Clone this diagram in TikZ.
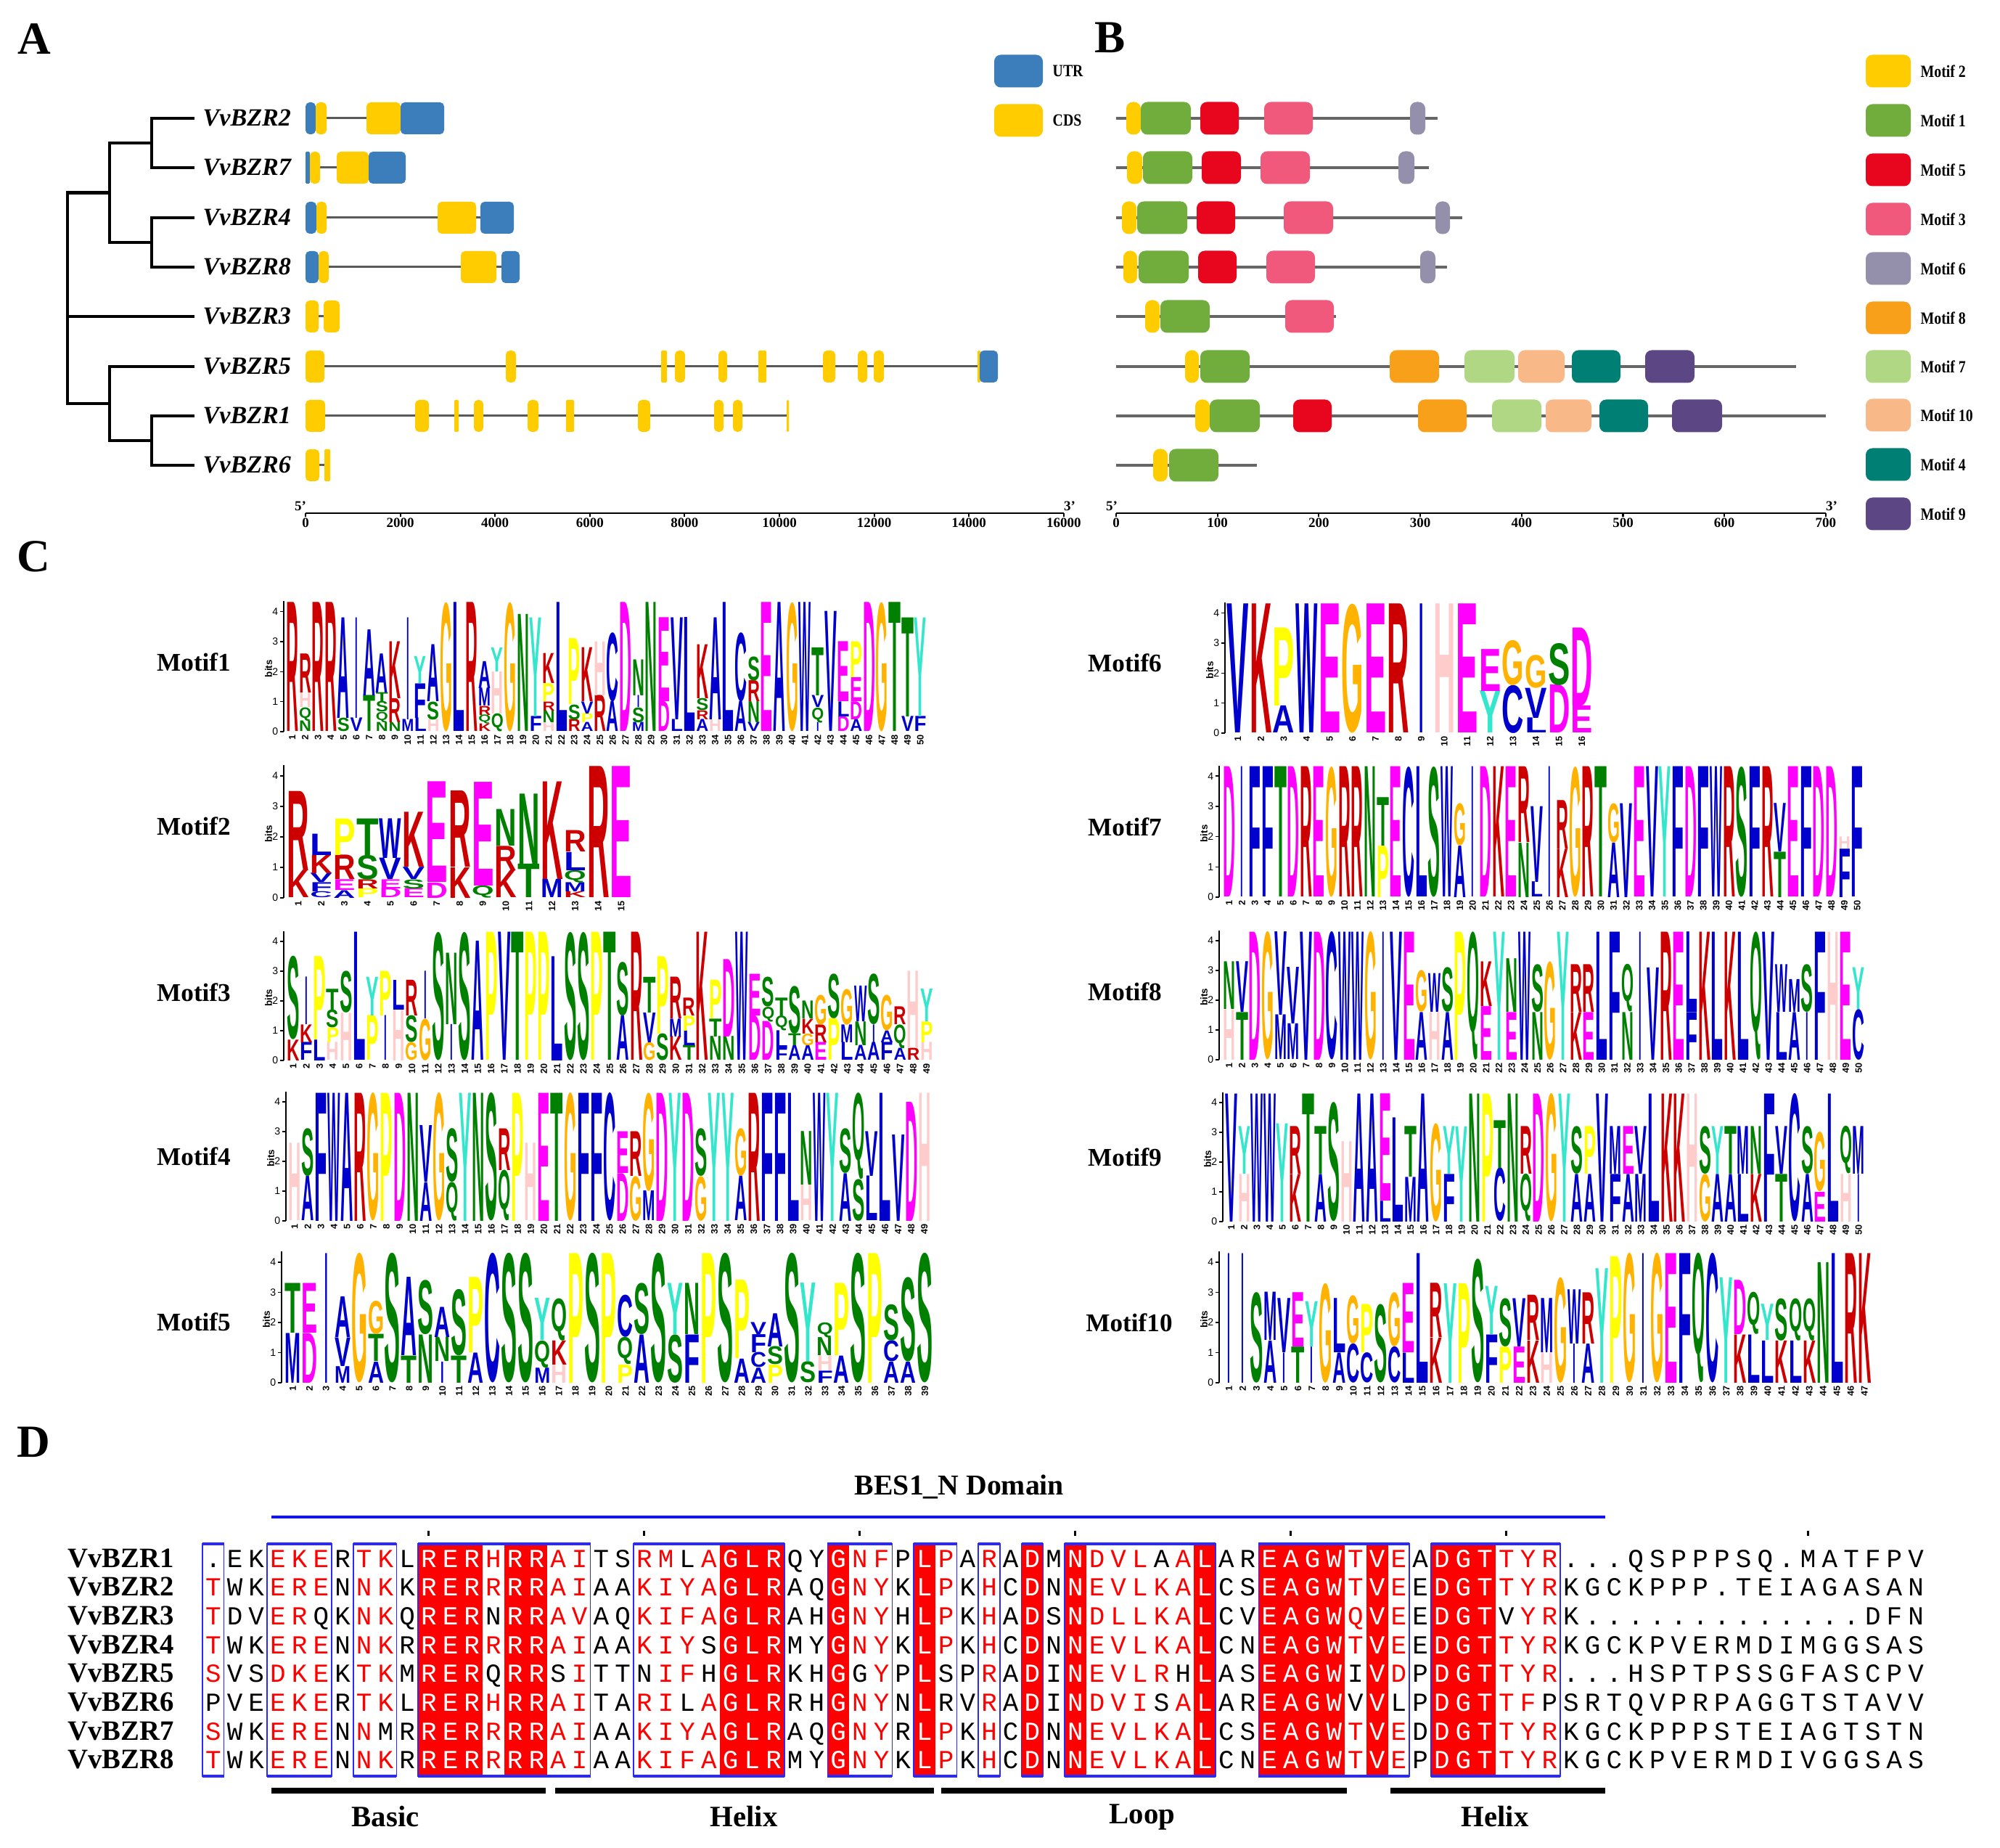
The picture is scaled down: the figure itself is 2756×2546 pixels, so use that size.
\documentclass[tikz,border=0pt]{standalone}
\usepackage{fontspec}
\usepackage{graphicx}
\setmainfont{Liberation Serif}
\newfontfamily\lgf{Liberation Sans}
\newfontfamily\monof{Liberation Mono}
% logo colours
\definecolor{lgblue}{RGB}{0,0,204}
\definecolor{lgred}{RGB}{204,0,0}
\definecolor{lgpink}{RGB}{255,204,204}
\definecolor{lggreen}{RGB}{0,128,0}
\definecolor{lgmag}{RGB}{255,0,255}
\definecolor{lgorange}{RGB}{255,179,0}
\definecolor{lgyellow}{RGB}{255,255,0}
\definecolor{lgturq}{RGB}{51,230,204}
\colorlet{aaA}{lgblue}\colorlet{aaC}{lgblue}\colorlet{aaF}{lgblue}\colorlet{aaI}{lgblue}
\colorlet{aaL}{lgblue}\colorlet{aaM}{lgblue}\colorlet{aaV}{lgblue}\colorlet{aaW}{lgblue}
\colorlet{aaK}{lgred}\colorlet{aaR}{lgred}\colorlet{aaH}{lgpink}
\colorlet{aaN}{lggreen}\colorlet{aaQ}{lggreen}\colorlet{aaS}{lggreen}\colorlet{aaT}{lggreen}
\colorlet{aaD}{lgmag}\colorlet{aaE}{lgmag}\colorlet{aaG}{lgorange}\colorlet{aaP}{lgyellow}\colorlet{aaY}{lgturq}
% structure colours
\definecolor{utr}{RGB}{59,126,187}
\definecolor{cds}{RGB}{255,204,0}
\definecolor{mtwo}{RGB}{255,204,0}
\definecolor{mone}{RGB}{112,173,60}
\definecolor{mfive}{RGB}{232,5,30}
\definecolor{mthree}{RGB}{240,89,124}
\definecolor{msix}{RGB}{148,144,172}
\definecolor{meight}{RGB}{248,160,26}
\definecolor{mseven}{RGB}{176,216,132}
\definecolor{mten}{RGB}{248,184,136}
\definecolor{mfour}{RGB}{0,128,116}
\definecolor{mnine}{RGB}{92,70,131}
\definecolor{espblue}{RGB}{40,40,255}
\definecolor{domblue}{RGB}{20,20,230}

\newcommand\gexon[4]{%
  \pgfmathsetmacro\qrc{((#3)-(#2))<12 ? 0.4 : 1.6}%
  \fill[#1, rounded corners=\qrc pt] (#2,#4-22) rectangle (#3,#4+22);}
\newcommand\mtf[4]{%
  \fill[#1, rounded corners=2.6pt] (#2,#4-22.5) rectangle (#3,#4+22.5);}

\newcommand\logo[5]{%
  \foreach \qcl [count=\qci] in {#5}{%
    \gdef\qyb{0}%
    \foreach \qlt/\qlh in \qcl {%
      \if\qlt I\def\qfw{0.2}\def\qfo{0.4}\else\def\qfw{0.96}\def\qfo{0.02}\fi
      \pgfmathsetmacro\qlx{#1+(\qci-1)*#3+\qfo*#3}%
      \pgfmathsetmacro\qly{#2-\qyb*#4}%
      \pgfmathsetmacro\qhh{max(\qlh*#4*0.284528,0.3)}%
      \pgfmathsetmacro\qww{#3*\qfw*0.284528}%
      \node[inner sep=0,outer sep=0,anchor=south west,text=aa\qlt] at (\qlx,\qly) {\resizebox*{\qww pt}{\qhh pt}{\lgf\bfseries\qlt}};%
      \pgfmathsetmacro\qnb{\qyb+\qlh}%
      \global\let\qyb\qnb
    }%
    \pgfmathsetmacro\qxc{#1+(\qci-0.5)*#3}%
    \node[rotate=90,anchor=east,inner sep=0,font=\lgf\bfseries\fontsize{3.6}{4}\selectfont] at (\qxc,#2+4) {\qci};%
  }%
}
\newcommand\logoaxis[3]{%
  \draw[line width=0.5pt] (#1,#2) -- (#1,#2-4.35*#3);
  \foreach \qk in {0,...,4}{\draw[line width=0.4pt] (#1,#2-\qk*#3) -- ++(-5,0) node[left,inner sep=0.6pt,font=\lgf\fontsize{4}{4}\selectfont]{\qk};}
  \node[rotate=90,inner sep=0,font=\lgf\bfseries\fontsize{3.8}{4}\selectfont] at (#1-21,#2-2.1*#3) {bits};
}

% alignment machinery
\newcount\alc
\def\alrow#1#2#3{\alc=0 \def\aly{#1}\alnext#2\relax#3\relax}
\def\alnext#1#2\relax#3#4\relax{%
  \advance\alc by 1
  \alcell{#1}{#3}%
  \ifx\relax#2\relax\else\alnext#2\relax#4\relax\fi}
\def\alcell#1#2{%
  \if r#2\def\alcol{red}\else\if w#2\def\alcol{white}\else\def\alcol{black}\fi\fi
  \pgfmathsetmacro\alx{279+(\the\alc-0.5)*29.7}%
  \node[anchor=base,inner sep=0,text=\alcol] at (\alx,\aly) {\monof\fontsize{10.2}{10}\selectfont #1};}

\tikzset{
  plab/.style={font=\fontsize{18}{20}\selectfont\bfseries, inner sep=0},
  tree/.style={line width=1.2pt},
  intron/.style={line width=0.85pt, draw=black!65},
  mline/.style={line width=1.1pt, draw=black!60},
  gname/.style={font=\fontsize{9.7}{11}\selectfont\bfseries\itshape, anchor=base west, inner sep=0},
  legtxt/.style={font=\fontsize{6.7}{8}\selectfont\bfseries, anchor=west, inner sep=0},
  axnum/.style={font=\fontsize{5.4}{6}\selectfont\bfseries, anchor=north, inner sep=0},
  mlab/.style={font=\fontsize{10}{12}\selectfont\bfseries, inner sep=0},
  dname/.style={font=\fontsize{11}{12}\selectfont\bfseries, anchor=base west, inner sep=0},
  dlab/.style={font=\fontsize{11.6}{13}\selectfont\bfseries, inner sep=0},
}

\begin{document}
\begin{tikzpicture}[x=0.01cm,y=-0.01cm]
\useasboundingbox (0,0) rectangle (2756,2546);
\fill[white] (0,0) rectangle (2756,2546);

\node[plab] (labA) at (47,54) {A};
\node[plab] (labB) at (1530,52) {B};
\node[plab] (labC) at (46,767) {C};
\node[plab] (labD) at (46,1987) {D};

%================ Panel A: tree ================
\draw[tree] (268,163) -| (209,231) -- (268,231);
\draw[tree] (268,300) -| (209,368) -- (268,368);
\draw[tree] (209,197) -| (151,334) -- (209,334);
\draw[tree] (268,573) -| (209,641) -- (268,641);
\draw[tree] (268,505) -| (151,607) -- (209,607);
\draw[tree] (151,265.5) -| (93,556) -- (151,556);
\draw[tree] (93,436) -- (268,436);

\node[gname] (g2) at (279,174) {VvBZR2};
\node[gname] (g7) at (279,242) {VvBZR7};
\node[gname] (g4) at (279,311) {VvBZR4};
\node[gname] (g8) at (279,379) {VvBZR8};
\node[gname] (g3) at (279,447) {VvBZR3};
\node[gname] (g5) at (279,516) {VvBZR5};
\node[gname] (g1) at (279,584) {VvBZR1};
\node[gname] (g6) at (279,652) {VvBZR6};

% gene structures
\draw[intron] (421,163) -- (612,163);
\gexon{utr}{421}{435}{163}\gexon{cds}{435}{450}{163}\gexon{cds}{505}{552}{163}\gexon{utr}{552}{612}{163}
\draw[intron] (421,231) -- (559,231);
\gexon{utr}{421}{427}{231}\gexon{cds}{427}{441}{231}\gexon{cds}{464}{508}{231}\gexon{utr}{508}{559}{231}
\draw[intron] (421,300) -- (708,300);
\gexon{utr}{421}{436}{300}\gexon{cds}{436}{450}{300}\gexon{cds}{603}{656}{300}\gexon{utr}{662}{708}{300}
\draw[intron] (421,368) -- (716,368);
\gexon{utr}{421}{439}{368}\gexon{cds}{439}{453}{368}\gexon{cds}{635}{684}{368}\gexon{utr}{691}{716}{368}
\draw[intron] (421,436) -- (468,436);
\gexon{cds}{421}{439}{436}\gexon{cds}{446}{468}{436}
\draw[intron] (421,505) -- (1375,505);
\foreach \a/\b in {421/447,697/711,911/919,930/944,990/1002,1045/1056,1134/1151,1182/1195,1204/1218,1347/1351}{\gexon{cds}{\a}{\b}{505}}
\gexon{utr}{1350}{1375}{505}
\draw[intron] (421,573) -- (1087,573);
\foreach \a/\b in {421/448,572/591,626/632,653/666,727/742,780/791,879/896,984/997,1010/1023,1084/1087}{\gexon{cds}{\a}{\b}{573}}
\draw[intron] (421,641) -- (455,641);
\gexon{cds}{421}{440}{641}\gexon{cds}{447}{455}{641}

% legend A
\mtf{utr}{1370}{1437}{98}
\node[legtxt] (lutr) at (1450,98) {\scalebox{0.84}[1]{UTR}};
\mtf{cds}{1370}{1437}{166}
\node[legtxt] (lcds) at (1450,166) {\scalebox{0.84}[1]{CDS}};

% axis A
\draw[line width=0.8pt] (421,707) -- (1466,707);
\foreach \k in {0,...,8}{
  \pgfmathsetmacro\qx{421+\k*130.6}
  \pgfmathtruncatemacro\qv{\k*2000}
  \draw[line width=0.6pt] (\qx,707) -- (\qx,712);
  \node[axnum] at (\qx,713) {\qv};
}
\node[axnum, anchor=south] at (414,704) {5'};
\node[axnum, anchor=south] at (1474,704) {3'};

%================ Panel B ================
\draw[mline] (1538,163) -- (1981,163);
\mtf{mtwo}{1552}{1572}{163}\mtf{mone}{1572}{1641}{163}\mtf{mfive}{1654}{1707}{163}\mtf{mthree}{1742}{1809}{163}\mtf{msix}{1943}{1964}{163}
\draw[mline] (1538,231) -- (1969,231);
\mtf{mtwo}{1553}{1574}{231}\mtf{mone}{1575}{1643}{231}\mtf{mfive}{1656}{1710}{231}\mtf{mthree}{1737}{1805}{231}\mtf{msix}{1927}{1949}{231}
\draw[mline] (1538,300) -- (2015,300);
\mtf{mtwo}{1546}{1566}{300}\mtf{mone}{1567}{1636}{300}\mtf{mfive}{1649}{1702}{300}\mtf{mthree}{1769}{1837}{300}\mtf{msix}{1978}{1998}{300}
\draw[mline] (1538,368) -- (1994,368);
\mtf{mtwo}{1548}{1567}{368}\mtf{mone}{1569}{1638}{368}\mtf{mfive}{1651}{1704}{368}\mtf{mthree}{1745}{1812}{368}\mtf{msix}{1957}{1978}{368}
\draw[mline] (1538,436) -- (1841,436);
\mtf{mtwo}{1578}{1598}{436}\mtf{mone}{1599}{1667}{436}\mtf{mthree}{1771}{1838}{436}
\draw[mline] (1538,505) -- (2475,505);
\mtf{mtwo}{1633}{1652}{505}\mtf{mone}{1654}{1722}{505}\mtf{meight}{1915}{1983}{505}\mtf{mseven}{2018}{2087}{505}\mtf{mten}{2092}{2156}{505}\mtf{mfour}{2166}{2233}{505}\mtf{mnine}{2267}{2335}{505}
\draw[mline] (1538,573) -- (2516,573);
\mtf{mtwo}{1647}{1667}{573}\mtf{mone}{1667}{1736}{573}\mtf{mfive}{1782}{1835}{573}\mtf{meight}{1954}{2021}{573}\mtf{mseven}{2056}{2124}{573}\mtf{mten}{2130}{2193}{573}\mtf{mfour}{2204}{2271}{573}\mtf{mnine}{2304}{2373}{573}
\draw[mline] (1538,641) -- (1732,641);
\mtf{mtwo}{1589}{1609}{641}\mtf{mone}{1611}{1679}{641}

% legend B
\foreach \c/\t/\yy in {mtwo/Motif 2/98,mone/Motif 1/166,mfive/Motif 5/234,mthree/Motif 3/302,msix/Motif 6/370,meight/Motif 8/438,mseven/Motif 7/505,mten/Motif 10/572,mfour/Motif 4/640,mnine/Motif 9/708}{
  \mtf{\c}{2571}{2633}{\yy}
  \node[legtxt] at (2646,\yy) {\scalebox{0.84}[1]{\t}};
}

% axis B
\draw[line width=0.8pt] (1538,707) -- (2516,707);
\foreach \k in {0,...,7}{
  \pgfmathsetmacro\qx{1538+\k*139.7}
  \pgfmathtruncatemacro\qv{\k*100}
  \draw[line width=0.6pt] (\qx,707) -- (\qx,712);
  \node[axnum] at (\qx,713) {\qv};
}
\node[axnum, anchor=south] at (1532,704) {5'};
\node[axnum, anchor=south] at (2524,704) {3'};

%================ Panel C ================
\node[mlab] (m1) at (267,912) {Motif1};
\node[mlab] (m2) at (267,1138) {Motif2};
\node[mlab] (m3) at (267,1367) {Motif3};
\node[mlab] (m4) at (267,1593) {Motif4};
\node[mlab] (m5) at (267,1821) {Motif5};
\node[mlab] (m6) at (1550,913) {Motif6};
\node[mlab] (m7) at (1550,1139) {Motif7};
\node[mlab] (m8) at (1550,1366) {Motif8};
\node[mlab] (m9) at (1550,1594) {Motif9};
\node[mlab] (m10) at (1556,1822) {Motif10};

\logoaxis{391}{1008}{41.3}
\logo{394}{1008}{17.66}{41.3}{{R/4.3},{N/0.35,Q/0.45,H/0.5,R/1.3},{R/4.3},{R/4.3},{S/0.45,A/3.35},{V/0.45,I/3.35},{T/1.2,A/2.2},{N/0.3,Q/0.35,S/0.35,T/0.3,A/1.3},{N/0.3,R/0.8,K/1.9},{M/0.4,I/3.4},
{L/0.45,F/1.15,Y/0.9},{H/0.4,S/0.6,A/1.9},{G/4.3},{L/4.3},{R/4.3},{K/0.25,Q/0.3,R/0.3,M/0.6,A/0.9},{Q/0.6,H/1.4,Y/0.8},{G/4.3},{N/3.9},{F/0.5,Y/3.3},
{H/0.3,N/0.4,R/0.3,P/0.6,K/1.0},{L/4.3},{R/0.4,S/0.5,P/2.2},{A/0.3,P/0.3,V/0.4,K/1.8},{R/1.2,H/1.8},{A/1.0,C/2.3},{D/4.3},{M/0.3,S/0.5,I/0.4,N/1.2},{N/4.3},{D/1.0,E/2.8},
{L/0.4,V/3.4},{L/3.8},{A/0.4,R/0.3,S/0.4,K/1.8},{H/0.4,A/3.4},{L/4.3},{A/1.0,C/2.3},{V/0.3,N/0.7,R/0.7,S/0.8},{E/4.3},{A/4.3},{G/4.3},
{W/4.3},{I/0.3,Q/0.5,V/0.4,T/1.6},{V/4.0},{D/0.5,L/0.5,E/2.0},{A/0.4,D/0.6,E/0.8,P/1.2},{D/4.3},{G/4.3},{T/4.3},{V/0.5,T/3.3},{F/0.5,Y/3.3}}

\logoaxis{391}{1237}{42}
\logo{395}{1237}{31.8}{42}{{K/0.9,R/2.6},{C/0.2,F/0.3,V/0.3,K/0.6,L/0.7},{A/0.25,E/0.35,R/0.8,P/1.2},{P/0.3,R/0.3,S/0.8,T/1.2},{D/0.3,E/0.3,V/0.7,W/1.3},{E/0.3,S/0.3,V/0.4,K/1.8},{D/0.5,E/3.3},{K/1.0,R/2.5},{Q/0.4,E/3.4},{K/0.9,R/0.8,N/1.2},{T/1.1,N/2.3},{M/0.6,K/3.2},{K/0.2,M/0.3,Q/0.4,L/0.6,R/0.7},{R/4.3},{E/4.3}}

\logoaxis{391}{1461}{41}
\logo{395}{1461}{18.18}{41}{{K/0.7,S/2.8},{F/0.6,K/0.6,I/1.6},{L/0.7,P/2.8},{H/0.6,P/0.5,S/0.6,T/0.7},{H/1.6,S/1.4},{L/4.3},{P/1.5,Y/1.3},{I/1.5,P/1.5},{H/1.7,L/1.0},{G/0.6,S/0.9,R/1.2},
{G/1.4,I/1.6},{S/4.3},{I/1.2,N/2.4},{S/4.3},{A/4.0},{P/4.3},{V/4.3},{T/4.3},{P/4.3},{P/4.3},
{L/3.5},{S/4.3},{S/4.3},{P/4.3},{T/4.3},{A/1.5,S/1.8},{R/4.3},{G/0.6,V/1.0,T/1.2},{S/0.9,P/2.6},{K/0.8,M/0.6,R/1.4},
{T/0.5,L/0.5,P/0.5,R/0.6},{K/4.3},{N/0.8,T/0.6,P/1.3},{N/0.8,D/2.6},{W/4.3},{D/1.5,E/1.4},{D/1.3,Q/0.5,S/1.0},{F/0.4,L/0.6,Q/0.5,T/0.6},{A/0.5,T/0.4,S/1.6},{A/0.5,G/0.4,K/0.5,N/0.6},
{E/0.6,R/0.6,G/1.0},{P/1.4,S/1.5},{L/0.6,M/0.6,G/1.2},{A/0.5,N/0.8,W/1.2},{A/0.6,I/0.6,S/1.7},{F/0.6,A/0.4,G/1.2},{A/0.4,Q/0.8,R/0.6},{R/0.4,H/2.6},{H/0.6,P/0.7,Y/1.1}}

\logoaxis{394}{1682}{41}
\logo{397}{1682}{18.08}{41}{{H/2.6},{A/1.5,S/1.6},{F/4.3},{W/4.3},{A/4.3},{R/4.3},{G/4.3},{P/4.3},{D/4.3},{N/4.3},
{A/1.3,V/1.9},{G/4.3},{Q/1.3,S/1.8},{Y/4.3},{N/4.3},{S/4.3},{Q/1.7,R/1.4},{P/4.3},{H/2.6},{E/4.3},
{T/4.3},{G/4.3},{F/4.3},{F/4.3},{C/4.3},{D/1.6,E/1.4},{G/1.5,R/1.5},{M/1.0,G/3.3},{D/4.3},{Y/4.3},
{D/4.3},{G/1.5,S/1.6},{Y/4.3},{Y/4.3},{A/1.5,G/1.6},{R/4.3},{F/4.3},{F/4.3},{L/4.3},{H/1.2,N/1.8},
{W/4.3},{Y/4.3},{A/1.6,S/1.5},{S/1.4,Q/2.9},{L/1.5,V/1.5},{L/4.3},{V/2.9},{D/4.0},{H/4.3}}

\logoaxis{388}{1905}{41.5}
\logo{392}{1905}{22.92}{41.5}{{M/1.65,T/1.65},{D/1.65,E/1.65},{I/4.3},{M/0.55,V/0.95,A/1.35},{G/4.3},{A/0.7,T/0.9,G/1.1},{S/4.3},{T/0.9,A/2.6},{N/1.6,S/1.8},{I/0.7,N/0.8,A/1.0},
{T/0.9,S/2.2},{A/1.0,P/2.5},{C/4.3},{S/4.3},{S/4.3},{M/0.5,Q/0.9,Y/1.4},{H/0.6,K/0.8,Q/1.4},{P/4.3},{S/4.3},{P/4.3},
{P/0.6,Q/0.9,C/1.4},{A/1.6,S/1.7},{S/4.3},{S/1.6,Y/1.7},{F/1.6,N/1.7},{P/4.3},{S/4.3},{A/0.8,P/2.6},{A/0.5,C/0.5,F/0.6,V/0.4},{P/0.6,S/0.6,A/1.1},
{S/4.3},{S/0.7,Y/2.6},{F/0.4,H/0.5,N/0.6,Q/0.5},{A/0.9,P/2.4},{S/4.3},{P/4.3},{A/0.7,C/0.7,S/1.2},{A/0.7,S/2.8},{S/4.3}}

\logoaxis{1688}{1010}{41.3}
\logo{1690}{1010}{31.6}{41.3}{{V/4.3},{K/4.3},{A/0.9,P/2.6},{W/4.3},{E/4.3},{G/4.3},{E/4.3},{R/4.3},{I/4.3},{H/4.3},{E/4.3},{Y/1.4,E/1.4},{C/1.6,G/1.5},{L/0.5,V/1.0,G/1.1},{D/1.6,S/1.4},{E/0.9,D/2.6}}

\logoaxis{1680}{1236}{41.7}
\logo{1685}{1236}{17.66}{41.7}{{D/4.3},{I/4.3},{F/4.3},{F/4.3},{T/4.3},{D/4.3},{R/4.3},{E/4.3},{G/4.3},{R/4.3},
{R/4.3},{N/4.3},{P/1.7,T/1.6},{E/4.3},{C/4.3},{L/4.3},{S/4.3},{W/4.3},{A/1.7,G/1.4},{I/4.3},
{D/4.3},{K/4.3},{E/4.3},{N/1.8,R/2.5},{L/0.5,V/2.5},{I/4.3},{K/1.6,R/1.6},{G/4.3},{R/4.3},{T/4.3},
{A/1.8,G/1.3},{V/3.1},{E/4.3},{V/4.3},{Y/4.3},{F/4.3},{D/4.3},{F/4.3},{W/4.3},{R/4.3},
{S/4.3},{F/4.3},{R/4.3},{T/1.5,V/1.6},{E/4.3},{F/4.3},{D/4.3},{D/4.3},{F/1.6,H/0.4},{F/4.3}}

\logoaxis{1680}{1460}{41}
\logo{1685}{1460}{17.7}{41}{{H/1.7,N/1.6},{T/1.6,V/1.7},{D/4.3},{G/4.3},{M/1.5,V/2.8},{M/1.2,V/1.9},{V/4.3},{D/4.3},{C/4.3},{W/4.3},
{W/4.3},{G/4.3},{I/4.3},{V/4.3},{E/4.3},{A/1.6,G/1.4},{H/1.6,W/1.3},{A/1.6,S/1.5},{P/4.3},{Q/4.3},
{E/1.8,K/1.5},{Y/4.3},{E/1.6,N/1.8},{W/4.3},{N/1.6,S/1.6},{G/3.3},{Y/4.3},{K/1.6,R/1.6},{E/1.6,R/1.6},{L/4.3},
{F/4.3},{N/1.6,Q/1.6},{I/4.3},{V/3.1},{R/4.3},{E/4.3},{F/1.6,L/2.7},{K/4.3},{L/4.3},{K/4.3},
{L/4.3},{Q/4.3},{V/4.3},{L/1.6,W/1.6},{A/1.6,M/1.1},{I/1.6,S/1.6},{F/4.3},{H/4.3},{E/4.3},{C/1.7,Y/1.4}}

\logoaxis{1685}{1683}{41}
\logo{1688}{1683}{17.64}{41}{{V/4.3},{H/1.6,Y/1.6},{W/4.3},{W/4.3},{Y/3.3},{K/1.6,R/1.6},{T/4.3},{A/1.6,T/1.6},{S/4.0},{H/2.7},
{A/4.3},{A/4.3},{L/0.7,E/3.6},{L/3.5},{M/1.5,T/1.7},{A/4.3},{G/3.3},{F/1.6,Y/1.6},{Y/3.2},{N/4.3},
{P/4.3},{C/1.8,T/1.6},{N/4.3},{Q/1.6,R/1.6},{D/4.3},{G/4.3},{Y/4.3},{A/1.6,S/1.6},{A/1.6,P/1.6},{V/4.3},
{F/1.6,M/1.6},{A/1.6,E/1.6},{M/1.6,V/1.6},{L/4.3},{K/4.3},{K/4.3},{H/4.3},{G/1.6,S/1.6},{A/1.6,Y/1.6},{A/1.6,T/1.6},
{L/1.6,M/1.6},{K/1.6,N/1.6},{F/4.3},{T/1.6,V/1.6},{C/4.3},{A/1.6,S/1.6},{E/1.0,G/2.0},{L/4.3},{H/1.6,Q/1.6},{I/1.6,M/1.6}}

\logoaxis{1680}{1905}{41.5}
\logo{1684}{1905}{19.04}{41.5}{{I/4.3},{I/4.3},{S/3.0},{A/1.4,M/1.6},{I/1.0,V/1.8},{T/1.2,E/1.8},{I/1.2,Y/1.5},{G/3.3},{A/1.0,L/1.8},{C/1.3,G/1.6},
{C/1.0,P/1.6},{S/2.6},{C/1.2,G/1.8},{L/1.0,E/2.3},{L/4.3},{K/1.5,R/1.8},{Y/3.3},{P/3.3},{S/4.1},{F/1.6,Y/1.6},
{P/1.2,S/1.6},{E/1.2,V/1.6},{K/1.4,R/1.5},{H/1.0,M/1.8},{G/3.5},{I/1.3,W/1.8},{A/1.3,R/1.7},{Y/3.8},{P/4.2},{G/4.3},
{I/4.3},{G/4.3},{E/4.3},{F/4.3},{Q/4.3},{C/4.3},{Y/3.5},{K/1.6,D/1.8},{L/1.6,Q/1.4},{L/1.4,Y/1.2},
{K/1.4,S/1.4},{L/1.4,Q/1.4},{K/1.4,Q/1.4},{N/4.0},{L/4.3},{R/4.3},{K/4.3}}

%================ Panel D ================
\node[font=\fontsize{11.3}{13}\selectfont\bfseries, inner sep=0] (dom) at (1322,2048) {BES1\_N Domain};
\draw[domblue, line width=1.4pt] (374,2090) -- (2212,2090);
\foreach \c in {11,21,31,41,51,61,75}{\draw[line width=0.9pt] ({279+(\c-0.5)*29.7},2109) -- ({279+(\c-0.5)*29.7},2116);}

% red fills
\foreach \a/\b in {11/13,15/16,25/27,30/30,34/34,39/39,41/41,47/47,50/53,55/55,58/60}{
  \fill[red] ({279+(\a-1)*29.7},2128) rectangle ({279+\b*29.7},2446);
}
% similarity boxes
\foreach \a/\b in {1/1,4/6,8/9,11/18,21/27,30/32,34/35,37/37,39/39,41/47,50/56,58/63}{
  \draw[espblue, line width=0.45pt] ({279+(\a-1)*29.7},2127) rectangle ({279+\b*29.7},2447);
  \draw[espblue, line width=1.1pt] ({279+(\a-1)*29.7},2127) -- ({279+\b*29.7},2127);
  \draw[espblue, line width=1.1pt] ({279+(\a-1)*29.7},2447) -- ({279+\b*29.7},2447);
}

\node[dname] (d1) at (93,2159) {VvBZR1};
\node[dname] (d2) at (93,2198.7) {VvBZR2};
\node[dname] (d3) at (93,2238.4) {VvBZR3};
\node[dname] (d4) at (93,2278.1) {VvBZR4};
\node[dname] (d5) at (93,2317.8) {VvBZR5};
\node[dname] (d6) at (93,2357.5) {VvBZR6};
\node[dname] (d7) at (93,2397.2) {VvBZR7};
\node[dname] (d8) at (93,2436.9) {VvBZR8};

\alrow{2159}{.EKEKERTKLRERHRRAITSRMLAGLRQYGNFPLPARADMNDVLAALAREAGWTVEADGTTYR...QSPPPSQ.MATFPV}{kkkrrrkrrkwwwrwwrrkkrrkrwwwkkwrrkwrkrkwkwrrrkrwkkwwwwrwrkwwwrrrkkkkkkkkkkkkkkkkk}
\alrow{2198.7}{TWKERENNKKRERRRRAIAAKIYAGLRAQGNYKLPKHCDNNEVLKALCSEAGWTVEEDGTTYRKGCKPPP.TEIAGASAN}{rkkrrrkrrkwwwrwwrrkkrrrrwwwkkwrrkwrkrkwkwrrrrrwkkwwwwrwrkwwwrrrkkkkkkkkkkkkkkkkk}
\alrow{2238.4}{TDVERQKNKQRERNRRAVAQKIFAGLRAHGNYHLPKHADSNDLLKALCVEAGWQVEEDGTVYRK.............DFN}{rkkrrkkrrkwwwkwwrrkkrrrrwwwkkwrrkwrkrkwkwrrrrrwkkwwwwrwrkwwwkrrkkkkkkkkkkkkkkkkk}
\alrow{2278.1}{TWKERENNKRRERRRRAIAAKIYSGLRMYGNYKLPKHCDNNEVLKALCNEAGWTVEEDGTTYRKGCKPVERMDIMGGSAS}{rkkrrrkrrkwwwrwwrrkkrrrkwwwkkwrrkwrkrkwkwrrrrrwkkwwwwrwrkwwwrrrkkkkkkkkkkkkkkkkk}
\alrow{2317.8}{SVSDKEKTKMRERQRRSITTNIFHGLRKHGGYPLSPRADINEVLRHLASEAGWIVDPDGTTYR...HSPTPSSGFASCPV}{rkkrrrkrrkwwwkwwkrkkkrrkwwwkkwkrkwkkrkwkwrrrrkwkkwwwwkwrkwwwrrrkkkkkkkkkkkkkkkkk}
\alrow{2357.5}{PVEEKERTKLRERHRRAITARILAGLRRHGNYNLRVRADINDVISALAREAGWVVLPDGTTFPSRTQVPRPAGGTSTAVV}{kkkrrrkrrkwwwrwwrrkkrrkrwwwkkwrrkwkkrkwkwrrrkrwkkwwwwkwkkwwwrrkkkkkkkkkkkkkkkkkk}
\alrow{2397.2}{SWKERENNMRRERRRRAIAAKIYAGLRAQGNYRLPKHCDNNEVLKALCSEAGWTVEDDGTTYRKGCKPPPSTEIAGTSTN}{rkkrrrkrkkwwwrwwrrkkrrrrwwwkkwrrkwrkrkwkwrrrrrwkkwwwwrwrkwwwrrrkkkkkkkkkkkkkkkkk}
\alrow{2436.9}{TWKERENNKRRERRRRAIAAKIFAGLRMYGNYKLPKHCDNNEVLKALCNEAGWTVEPDGTTYRKGCKPVERMDIVGGSAS}{rkkrrrkrrkwwwrwwrrkkrrrrwwwkkwrrkwrkrkwkwrrrrrwkkwwwwrwrkwwwrrrkkkkkkkkkkkkkkkkk}

% secondary structure bars
\draw[line width=2pt] (374,2467) -- (752,2467);
\draw[line width=2pt] (765,2467) -- (1287,2467);
\draw[line width=2pt] (1297,2467) -- (1856,2467);
\draw[line width=2pt] (1916,2467) -- (2212,2467);
\node[dlab] (basic) at (531,2503) {Basic};
\node[dlab] (helix1) at (1025,2503) {Helix};
\node[dlab] (loop) at (1574,2503) {Loop};
\node[dlab] (helix2) at (2060,2503) {Helix};
\end{tikzpicture}
\end{document}
